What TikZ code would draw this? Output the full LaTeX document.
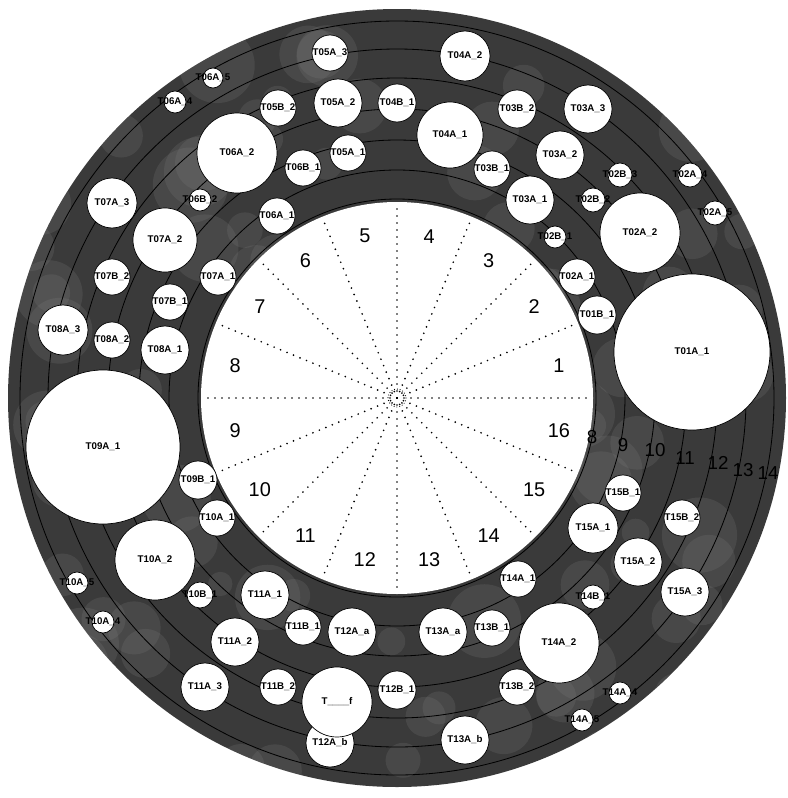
\documentclass[tikz,border=0pt]{standalone}
\usepackage{fontspec}
\setmainfont{Liberation Sans}
\usepackage{tikz}
\usetikzlibrary{calc}
\newcommand{\tname}[1]{\makebox[0pt]{#1}}
\definecolor{discgray}{RGB}{58,58,58}
\definecolor{patchgray}{RGB}{125,125,125}
\tikzset{
  blob/.style={
    circle,draw=black,line width=0.6pt,fill=white,inner sep=0pt,
    minimum size=#1*0.6mm,font=\fontsize{8.3}{9}\selectfont\bfseries
  },
  ringline/.style={draw=black,line width=0.7pt},
  spoke/.style={draw=black,line width=1.6pt,line cap=round,dash pattern=on 0pt off 2.1mm},
  hubdots/.style={draw=black,line width=1pt,line cap=round,dash pattern=on 0pt off 0.85mm},
  secnum/.style={font=\fontsize{17}{18}\selectfont,inner sep=0pt},
  ringnum/.style={font=\fontsize{16}{18}\selectfont,text=black,inner sep=0pt}
}

\begin{document}
\begin{tikzpicture}[x=0.3mm,y=-0.3mm]
  \useasboundingbox (0,0) rectangle (787,798);
  \coordinate (c) at (397,398);
  % dark annulus with a rough texture
  \fill[discgray] (c) circle (389);
  \begin{scope}
    \clip (c) circle (389);
    \pgfmathsetseed{11}
    \foreach \i in {1,...,110}
      \fill[patchgray,opacity=0.22] ({397+380*rand},{398+380*rand}) circle ({12+26*rnd});
  \end{scope}
  \foreach \r in {199,228,258,289,320,349,377}
    \draw[ringline] (c) circle (\r);
  \fill[white] (c) circle (196);

  % tracks, sector by sector
  \node[blob=18] (t05a3) at (330,53) {\tname{T05A\_3}};
  \node[blob=10] (t06a5) at (213,78) {\tname{T06A\_5}};
  \node[blob=11] (t06a4) at (175,102) {\tname{T06A\_4}};
  \node[blob=18] (t05b2) at (278,108) {\tname{T05B\_2}};
  \node[blob=24] (t05a2) at (338,103) {\tname{T05A\_2}};
  \node[blob=19] (t04b1) at (397,103) {\tname{T04B\_1}};
  \node[blob=25] (t04a2) at (465,56) {\tname{T04A\_2}};
  \node[blob=19] (t03b2) at (517,109) {\tname{T03B\_2}};
  \node[blob=24] (t03a3) at (588,109) {\tname{T03A\_3}};
  \node[blob=33] (t04a1) at (450,135) {\tname{T04A\_1}};
  \node[blob=40] (t06a2) at (237,153) {\tname{T06A\_2}};
  \node[blob=18] (t06b1) at (303,168) {\tname{T06B\_1}};
  \node[blob=18] (t05a1) at (348,153) {\tname{T05A\_1}};
  \node[blob=24] (t03a2) at (560,155) {\tname{T03A\_2}};
  \node[blob=18] (t03b1) at (492,169) {\tname{T03B\_1}};
  \node[blob=12] (t02b3) at (620,175) {\tname{T02B\_3}};
  \node[blob=12] (t02a4) at (690,175) {\tname{T02A\_4}};
  \node[blob=24] (t03a1) at (530,200) {\tname{T03A\_1}};
  \node[blob=12] (t02b2) at (593,200) {\tname{T02B\_2}};
  \node[blob=12] (t02a5) at (715,213) {\tname{T02A\_5}};
  \node[blob=40] (t02a2) at (640,233) {\tname{T02A\_2}};
  \node[blob=11] (t02b1) at (555,237) {\tname{T02B\_1}};
  \node[blob=25] (t07a3) at (112,203) {\tname{T07A\_3}};
  \node[blob=11] (t06b2) at (200,200) {\tname{T06B\_2}};
  \node[blob=18] (t06a1) at (277,216) {\tname{T06A\_1}};
  \node[blob=32] (t07a2) at (165,240) {\tname{T07A\_2}};
  \node[blob=18] (t07b2) at (112,277) {\tname{T07B\_2}};
  \node[blob=18] (t07a1) at (218,277) {\tname{T07A\_1}};
  \node[blob=18] (t07b1) at (170,302) {\tname{T07B\_1}};
  \node[blob=25] (t08a3) at (63,330) {\tname{T08A\_3}};
  \node[blob=18] (t08a2) at (112,340) {\tname{T08A\_2}};
  \node[blob=24] (t08a1) at (165,350) {\tname{T08A\_1}};
  \node[blob=77] (t09a1) at (103,447) {\tname{T09A\_1}};
  \node[blob=19] (t09b1) at (198,480) {\tname{T09B\_1}};
  \node[blob=18] (t10a1) at (217,518) {\tname{T10A\_1}};
  \node[blob=18] (t02a1) at (577,277) {\tname{T02A\_1}};
  \node[blob=19] (t01b1) at (597,315) {\tname{T01B\_1}};
  \node[blob=78] (t01a1) at (692,352) {\tname{T01A\_1}};
  \node[blob=18] (t15b1) at (623,493) {\tname{T15B\_1}};
  \node[blob=18] (t15b2) at (682,518) {\tname{T15B\_2}};
  \node[blob=25] (t15a1) at (593,528) {\tname{T15A\_1}};
  \node[blob=40] (t10a2) at (155,560) {\tname{T10A\_2}};
  \node[blob=11] (t10a5) at (77,583) {\tname{T10A\_5}};
  \node[blob=11] (t10a4) at (103,622) {\tname{T10A\_4}};
  \node[blob=13] (t10b1) at (200,595) {\tname{T10B\_1}};
  \node[blob=24] (t11a1) at (265,595) {\tname{T11A\_1}};
  \node[blob=18] (t11b1) at (303,627) {\tname{T11B\_1}};
  \node[blob=24] (t12aa) at (352,632) {\tname{T12A\_a}};
  \node[blob=24] (t11a2) at (235,642) {\tname{T11A\_2}};
  \node[blob=24] (t11a3) at (205,687) {\tname{T11A\_3}};
  \node[blob=18] (t11b2) at (278,687) {\tname{T11B\_2}};
  \node[blob=24] (t12ab) at (330,743) {\tname{T12A\_b}};
  \node[blob=35] (t12af) at (337,702) {\tname{T\_\_\_\_f}};
  \node[blob=19] (t12b1) at (397,690) {\tname{T12B\_1}};
  \node[blob=24] (t15a2) at (638,562) {\tname{T15A\_2}};
  \node[blob=18] (t14a1) at (518,579) {\tname{T14A\_1}};
  \node[blob=24] (t15a3) at (685,592) {\tname{T15A\_3}};
  \node[blob=12] (t14b1) at (593,597) {\tname{T14B\_1}};
  \node[blob=24] (t13aa) at (443,632) {\tname{T13A\_a}};
  \node[blob=18] (t13b1) at (492,628) {\tname{T13B\_1}};
  \node[blob=40] (t14a2) at (559,643) {\tname{T14A\_2}};
  \node[blob=18] (t13b2) at (517,687) {\tname{T13B\_2}};
  \node[blob=24] (t13ab) at (465,740) {\tname{T13A\_b}};
  \node[blob=11] (t14a4) at (620,693) {\tname{T14A\_4}};
  \node[blob=11] (t14a5) at (582,720) {\tname{T14A\_5}};

  % sectors of the inner disc
  \draw[hubdots] (c) circle (9);
  \foreach \a in {0,22.5,...,337.5}
    \draw[spoke] (c) -- ([shift={(c)}]\a:190);
  \foreach \k [evaluate=\k as \ang using -(\k-1)*22.5-11.25] in {1,...,16}
    \node[secnum] (s\k) at ([shift={(c)}]\ang:165) {\k};

  % ring numbers
  \node[ringnum] (r8) at (592,437) {8};
  \node[ringnum] (r9) at (623,445) {9};
  \node[ringnum] (r10) at (655,450) {10};
  \node[ringnum] (r11) at (685,458) {11};
  \node[ringnum] (r12) at (718,463) {12};
  \node[ringnum] (r13) at (743,470) {13};
  \node[ringnum] (r14) at (768,473) {14};
\end{tikzpicture}
\end{document}
